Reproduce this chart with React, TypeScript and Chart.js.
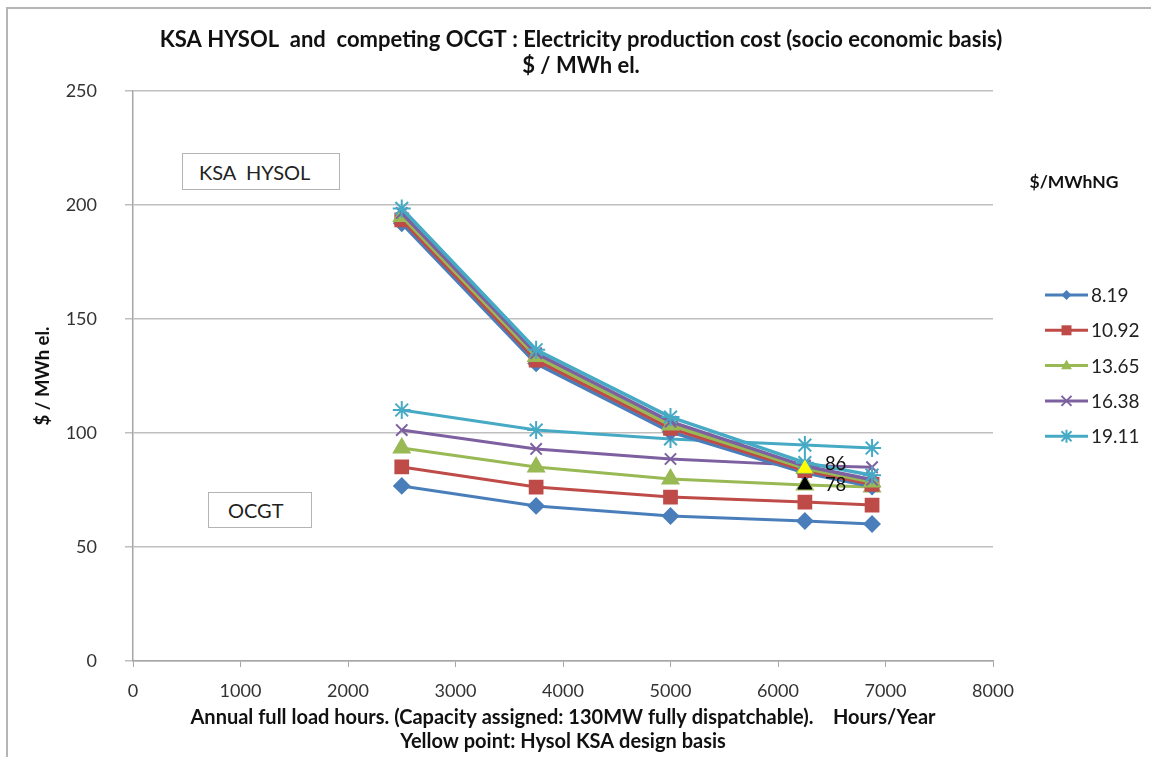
import React, { useEffect, useRef } from "react";
import { Chart, registerables } from "chart.js";

Chart.register(...registerables);

const FONT = "Lato, 'Open Sans', sans-serif";

// ---- data ----
const hours = [2500, 3750, 5000, 6250, 6875];
const gasPrices = ["8.19", "10.92", "13.65", "16.38", "19.11"];

const hysol_8_19 = [192, 130.5, 100.5, 82.5, 76.5];
const hysol_10_92 = [193.5, 132, 102, 83.5, 77.5];
const hysol_13_65 = [195, 133.5, 103.5, 84.5, 78.5];
const hysol_16_38 = [196.5, 135, 105, 85.5, 79.5];
const hysol_19_11 = [198.5, 136.5, 107, 87, 81.5];

const ocgt_8_19 = [76.8, 68.0, 63.6, 61.4, 60.1];
const ocgt_10_92 = [85.1, 76.3, 71.9, 69.7, 68.4];
const ocgt_13_65 = [93.4, 85.1, 79.8, 77.2, 76.3];
const ocgt_16_38 = [101.3, 93.0, 88.6, 85.8, 85.0];
const ocgt_19_11 = [110.1, 101.3, 97.4, 94.7, 93.4];

const designHours = [6250];
const designHysol = [84.5];
const designOcgt = [77.2];
const designLabels = ["86", "78"];

const xTickValues = [0, 1000, 2000, 3000, 4000, 5000, 6000, 7000, 8000];
const yTickValues = [0, 50, 100, 150, 200, 250];

const titleLines = [
  "KSA HYSOL  and  competing OCGT : Electricity production cost (socio economic basis)",
  "$ / MWh el.",
];
const xTitleLines = [
  "Annual full load hours. (Capacity assigned: 130MW fully dispatchable).    Hours/Year",
  "Yellow point: Hysol KSA design basis",
];
const yTitle = "$ / MWh el.";
const legendTitle = "$/MWhNG";

const hysolSeries = [hysol_8_19, hysol_10_92, hysol_13_65, hysol_16_38, hysol_19_11];
const ocgtSeries = [ocgt_8_19, ocgt_10_92, ocgt_13_65, ocgt_16_38, ocgt_19_11];

const colors = ["#4A7EBB", "#BE4B48", "#98B954", "#7D60A0", "#46AAC5"];
const pointStyles = ["rectRot", "rect", "triangle", "crossRot", "star"];
const pointRadii = [7.5, 9, 9, 8, 9];

function drawMarker(ctx: CanvasRenderingContext2D, style: string, x: number, y: number, r: number, color: string) {
  ctx.save();
  ctx.fillStyle = color;
  ctx.strokeStyle = color;
  ctx.lineWidth = 2;
  ctx.beginPath();
  if (style === "rectRot") {
    ctx.moveTo(x, y - r);
    ctx.lineTo(x + r, y);
    ctx.lineTo(x, y + r);
    ctx.lineTo(x - r, y);
    ctx.closePath();
    ctx.fill();
  } else if (style === "rect") {
    ctx.rect(x - r, y - r, 2 * r, 2 * r);
    ctx.fill();
  } else if (style === "triangle") {
    ctx.moveTo(x, y - r);
    ctx.lineTo(x + r * 0.9, y + r * 0.6);
    ctx.lineTo(x - r * 0.9, y + r * 0.6);
    ctx.closePath();
    ctx.fill();
  } else if (style === "crossRot") {
    ctx.moveTo(x - r, y - r);
    ctx.lineTo(x + r, y + r);
    ctx.moveTo(x + r, y - r);
    ctx.lineTo(x - r, y + r);
    ctx.stroke();
  } else {
    ctx.moveTo(x - r, y - r);
    ctx.lineTo(x + r, y + r);
    ctx.moveTo(x + r, y - r);
    ctx.lineTo(x - r, y + r);
    ctx.moveTo(x, y - r * 1.3);
    ctx.lineTo(x, y + r * 1.3);
    ctx.stroke();
  }
  ctx.restore();
}

const overlayPlugin = {
  id: "overlay",
  afterDraw(chart: any) {
    const ctx: CanvasRenderingContext2D = chart.ctx;
    const xs = chart.scales.x;
    const ys = chart.scales.y;
    ctx.save();
    // title
    ctx.fillStyle = "#111";
    ctx.textAlign = "center";
    ctx.textBaseline = "middle";
    ctx.font = `bold 22px ${FONT}`;
    titleLines.forEach((t, i) => ctx.fillText(t, 581, 40 + i * 26));

    // design point labels
    ctx.font = `18.5px ${FONT}`;
    ctx.textAlign = "left";
    const px = xs.getPixelForValue(designHours[0]);
    ctx.fillText(designLabels[0], px + 20, ys.getPixelForValue(designHysol[0]) - 4);
    ctx.fillText(designLabels[1], px + 20, ys.getPixelForValue(designOcgt[0]));

    // legend
    ctx.font = `bold 17.5px ${FONT}`;
    ctx.textAlign = "center";
    ctx.fillStyle = "#111";
    ctx.fillText(legendTitle, 1074, 182);
    ctx.font = `19px ${FONT}`;
    ctx.textAlign = "left";
    gasPrices.forEach((name, i) => {
      const y = 295 + i * 35.3;
      ctx.strokeStyle = colors[i];
      ctx.lineWidth = 3;
      ctx.beginPath();
      ctx.moveTo(1045, y);
      ctx.lineTo(1088, y);
      ctx.stroke();
      drawMarker(ctx, pointStyles[i], 1066.5, y, i === 2 ? 6 : 5, colors[i]);
      ctx.fillStyle = "#222";
      ctx.fillText(name, 1091, y + 1);
    });
    ctx.restore();
  },
};

export default function App() {
  const canvasRef = useRef<HTMLCanvasElement | null>(null);

  useEffect(() => {
    if (!canvasRef.current) return;
    const toXY = (arr: number[]) => arr.map((v, i) => ({ x: hours[i], y: v }));
    const datasets: any[] = [];
    hysolSeries.forEach((s, i) => {
      datasets.push({
        label: "HYSOL " + gasPrices[i],
        data: toXY(s),
        borderColor: colors[i],
        backgroundColor: colors[i],
        borderWidth: 3.5,
        pointStyle: pointStyles[i],
        pointRadius: pointRadii[i],
        pointBorderWidth: 2,
        pointBorderColor: colors[i],
        pointBackgroundColor: colors[i],
        order: 1 + (4 - i),
      });
    });
    ocgtSeries.forEach((s, i) => {
      datasets.push({
        label: "OCGT " + gasPrices[i],
        data: toXY(s),
        borderColor: colors[i],
        backgroundColor: colors[i],
        borderWidth: 3,
        pointStyle: pointStyles[i],
        pointRadius: pointRadii[i],
        pointBorderWidth: 2,
        pointBorderColor: colors[i],
        pointBackgroundColor: colors[i],
        order: 6 + (4 - i),
      });
    });
    datasets.push({
      label: "Design HYSOL",
      data: designHours.map((h, i) => ({ x: h, y: designHysol[i] })),
      showLine: false,
      pointStyle: "triangle",
      pointRadius: 8,
      pointBackgroundColor: "#FFFF00",
      pointBorderColor: "#FFFF00",
      pointBorderWidth: 1,
      order: 0,
    });
    datasets.push({
      label: "Design OCGT",
      data: designHours.map((h, i) => ({ x: h, y: designOcgt[i] })),
      showLine: false,
      pointStyle: "triangle",
      pointRadius: 8,
      pointBackgroundColor: "#000000",
      pointBorderColor: "#000000",
      pointBorderWidth: 1,
      order: 0,
    });

    const chart = new Chart(canvasRef.current, {
      type: "line",
      data: { datasets },
      options: {
        responsive: false,
        animation: false,
        devicePixelRatio: 1,
        layout: { padding: { top: 91, right: 158, left: 0, bottom: 0 } },
        plugins: {
          legend: { display: false },
          title: { display: false },
          tooltip: { enabled: false },
        },
        elements: { line: { tension: 0 } },
        scales: {
          x: {
            type: "linear",
            min: 0,
            max: 8000,
            afterBuildTicks: (scale: any) => {
              scale.ticks = xTickValues.map((v) => ({ value: v }));
            },
            afterFit: (scale: any) => {
              scale.height = 96;
            },
            grid: {
              drawOnChartArea: false,
              drawTicks: true,
              tickLength: 6,
              color: "#a6a6a6",
            },
            border: { display: true, color: "#a6a6a6", width: 1.5 },
            ticks: {
              padding: 13,
              color: "#333",
              font: { family: FONT, size: 18 },
              maxRotation: 0,
              callback: (v: any) => String(v),
            },
            title: {
              display: true,
              text: xTitleLines,
              color: "#111",
              font: { family: FONT, size: 20, weight: "bold", lineHeight: 1.2 },
              padding: { top: 0, bottom: 3 },
            },
          },
          y: {
            type: "linear",
            min: 0,
            max: 250,
            afterBuildTicks: (scale: any) => {
              scale.ticks = yTickValues.map((v) => ({ value: v }));
            },
            afterFit: (scale: any) => {
              scale.width = 133;
            },
            grid: {
              drawOnChartArea: true,
              drawTicks: true,
              tickLength: 8,
              color: "#bfbfbf",
              lineWidth: 1.5,
            },
            border: { display: true, color: "#a6a6a6", width: 1.5 },
            ticks: {
              padding: 28,
              color: "#333",
              font: { family: FONT, size: 18 },
              callback: (v: any) => String(v),
            },
            title: {
              display: true,
              text: yTitle,
              color: "#111",
              font: { family: FONT, size: 18.5, weight: "bold", lineHeight: 1.2 },
              padding: { top: 32, bottom: 0 },
            },
          },
        },
      },
      plugins: [overlayPlugin],
    } as any);

    return () => chart.destroy();
  }, []);

  const boxStyle: React.CSSProperties = {
    position: "absolute",
    border: "1.5px solid #b4b4b4",
    background: "#fff",
    boxSizing: "border-box",
    fontFamily: FONT,
    fontSize: 20,
    color: "#222",
    whiteSpace: "pre",
    display: "flex",
    alignItems: "center",
  };

  return (
    <div
      style={{
        position: "fixed",
        left: 0,
        top: 0,
        width: 1151,
        height: 757,
        background: "#fff",
        overflow: "hidden",
      }}
    >
      <canvas ref={canvasRef} width={1151} height={757} style={{ display: "block", width: 1151, height: 757 }} />
      <div
        style={{
          position: "absolute",
          left: 6,
          top: 7,
          width: 1200,
          height: 800,
          borderLeft: "2px solid #b5b5b5",
          borderTop: "2px solid #b5b5b5",
          pointerEvents: "none",
        }}
      />
      <div style={{ ...boxStyle, left: 182, top: 153, width: 158, height: 37, paddingLeft: 16 }}>{"KSA  HYSOL"}</div>
      <div style={{ ...boxStyle, left: 208, top: 492, width: 104, height: 36, paddingLeft: 19 }}>{"OCGT"}</div>
    </div>
  );
}
